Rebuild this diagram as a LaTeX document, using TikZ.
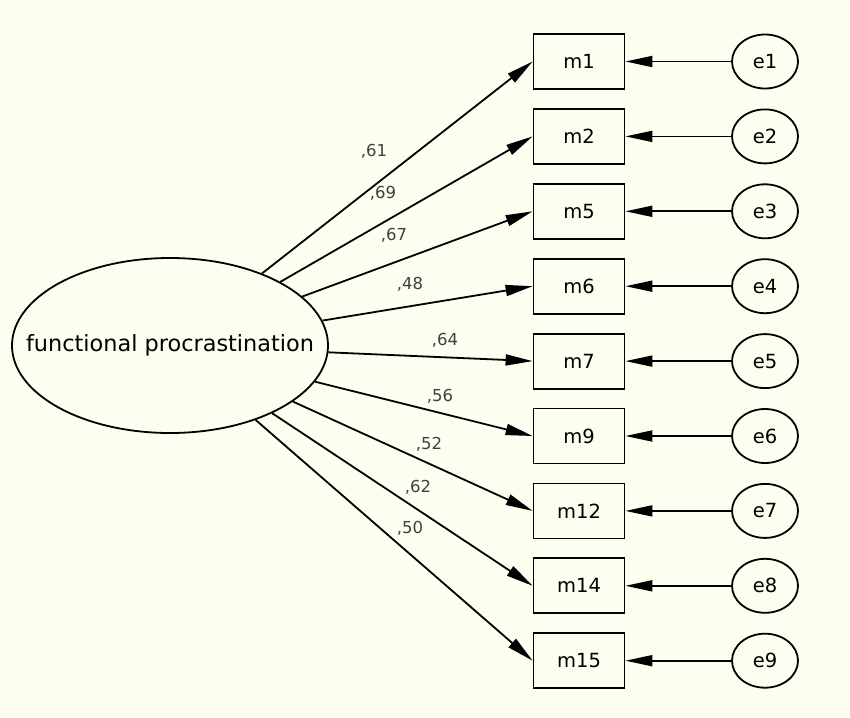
\documentclass[tikz,border=0pt]{standalone}
\usepackage{fontspec}
\setmainfont{DejaVu Sans}
\usetikzlibrary{shapes.geometric,arrows.meta}
\definecolor{bg}{RGB}{253,253,240}
\tikzset{
  every path/.style={line width=1.8pt},
  latent/.style={ellipse, draw, fill=bg, minimum width=316pt, minimum height=175pt, inner sep=0pt, font=\fontsize{22.4}{26}\selectfont},
  obs/.style={rectangle, draw, fill=bg, minimum width=91pt, minimum height=55pt, inner sep=0pt, font=\fontsize{19.5}{22}\selectfont},
  err/.style={ellipse, draw, fill=bg, minimum width=66pt, minimum height=54pt, inner sep=0pt, font=\fontsize{19.5}{22}\selectfont},
  coef/.style={inner sep=0pt, font=\fontsize{16.5}{19}\selectfont, text=black!75},
  path arrow/.style={-{Triangle[length=27pt,width=11pt]}, line width=1.8pt},
}
\begin{document}
\begin{tikzpicture}[x=1pt,y=-1pt]
\fill[bg] (0,0) rectangle (850,717);
\useasboundingbox (0,0) rectangle (850,717);
\node[latent] (fp) at (170,345.5) {\makebox[0pt]{functional procrastination}};
\foreach \n/\m/\e [count=\i from 0] in {m1/m1/e1, m2/m2/e2, m5/m5/e3, m6/m6/e4, m7/m7/e5, m9/m9/e6, m12/m12/e7, m14/m14/e8, m15/m15/e9}{
  \node[obs] (\n) at (579,61.5+74.9*\i) {\m};
  \node[err] (\e) at (765,61.5+74.9*\i) {\e};
  \draw[path arrow] (fp) -- (\n.west);
  \draw[path arrow] (\e) -- (\n);
}
\node[coef] (l1) at (374,151) {,61};
\node[coef] (l2) at (383,193) {,69};
\node[coef] (l3) at (394,235) {,67};
\node[coef] (l4) at (410,284) {,48};
\node[coef] (l5) at (445,340) {,64};
\node[coef] (l6) at (440,396) {,56};
\node[coef] (l7) at (429,444) {,52};
\node[coef] (l8) at (418,487) {,62};
\node[coef] (l9) at (410,528) {,50};
\end{tikzpicture}
\end{document}
